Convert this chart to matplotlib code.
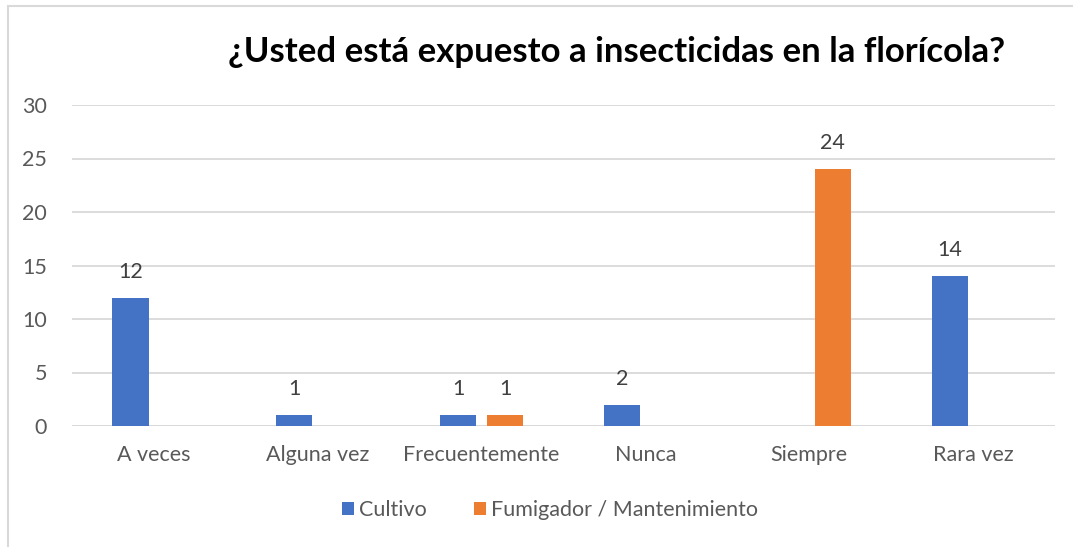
import matplotlib
matplotlib.use("Agg")
import matplotlib.pyplot as plt
import numpy as np
from matplotlib.patches import Rectangle

categories = ["A veces", "Alguna vez", "Frecuentemente", "Nunca", "Siempre", "Rara vez"]
cultivo = [12, 1, 1, 2, 0, 14]
fumigador = [0, 0, 1, 0, 24, 0]
series_names = ["Cultivo", "Fumigador / Mantenimiento"]
yticks = [0, 5, 10, 15, 20, 25, 30]
title = "¿Usted está expuesto a insecticidas en la florícola?"

plt.rcParams['font.family'] = ['Lato', 'DejaVu Sans']

fig = plt.figure(figsize=(10.73, 5.47), dpi=100)
ax = fig.add_axes([72/1073, 1-426/547, (1055-72)/1073, (426-105)/547])

x = np.arange(len(categories))
w = 0.22
off = 0.143
blue = "#4472C4"
orange = "#ED7D31"
b1 = ax.bar(x - off, cultivo, w, color=blue, label=series_names[0])
b2 = ax.bar(x + off, fumigador, w, color=orange, label=series_names[1])

for xs, vals in ((x - off, cultivo), (x + off, fumigador)):
    for xi, v in zip(xs, vals):
        if v:
            ax.annotate(str(v), (xi, v), xytext=(0, 26), textcoords='offset pixels',
                        ha='center', va='center', fontsize=15.5, color='#404040')

ax.set_xlim(-0.5, len(categories) - 0.5)
ax.set_ylim(0, 30)
ax.set_yticks(yticks)
ax.set_xticks(x)
ax.set_xticklabels(categories)
ax.tick_params(axis='both', length=0, labelsize=15.5, colors='#595959')
ax.tick_params(axis='x', pad=14)
ax.tick_params(axis='y', pad=18)
ax.yaxis.grid(True, color='#d9d9d9', linewidth=1.3)
ax.set_axisbelow(True)
for s in ax.spines.values():
    s.set_visible(False)
ax.axhline(0, color='#d9d9d9', linewidth=1.3, zorder=0.5)

fig.text(617/1073, 1-52/547, title, ha='center', va='center', fontsize=25, fontweight='bold', color='black')

leg = fig.legend(handles=[b1, b2], labels=series_names, loc='center', bbox_to_anchor=(550/1073, 1-510/547),
                 ncol=2, frameon=False, fontsize=15.5, handlelength=0.55, handleheight=0.55,
                 handletextpad=0.25, columnspacing=2.2, labelcolor='#595959')

fig.patches.append(Rectangle((8/1073, -0.1), 1.2, 1 - 6/547 + 0.1, transform=fig.transFigure,
                             fill=False, edgecolor='#d9d9d9', linewidth=1.5))

fig.savefig("out.png", dpi=100)
